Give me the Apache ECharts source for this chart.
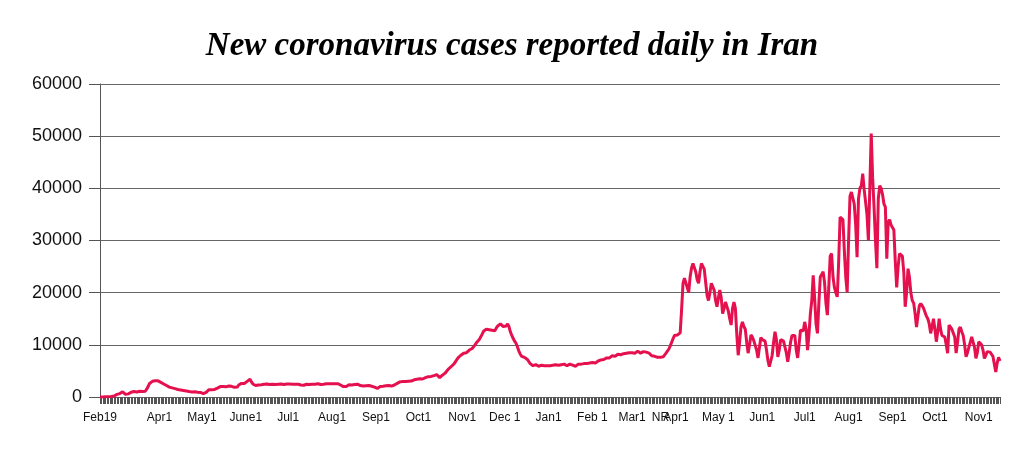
<!DOCTYPE html>
<html>
<head>
<meta charset="utf-8">
<script src="https://cdn.jsdelivr.net/npm/echarts@6/dist/echarts.min.js"></script>
<style>
  html, body { margin: 0; padding: 0; background: #fff; }
  #chart { width: 1024px; height: 452px; }
</style>
</head>
<body>
<div id="chart"></div>
<script>
// daily new cases, one array per month (Feb 19 2020 .. Nov 16 2021)
const feb20 = [0, 0, 20, 30, 40, 50, 60, 100, 120, 150, 200];
const mar20 = [300, 500, 600, 650, 800, 1000, 900, 500, 450, 600, 800, 900, 1000, 1050, 1000, 950, 1050, 1100, 1000, 1050, 1000, 1100, 1500, 2000, 2600, 2900, 3000, 3050, 3100, 3150, 3100];
const apr20 = [2900, 2800, 2650, 2500, 2350, 2200, 2050, 1900, 1800, 1750, 1650, 1600, 1500, 1450, 1400, 1350, 1300, 1250, 1200, 1150, 1100, 1050, 1000, 980, 950, 1000, 950, 900, 920, 880];
const may20 = [800, 650, 700, 900, 1200, 1400, 1450, 1400, 1500, 1450, 1600, 1700, 1900, 2000, 1900, 2000, 2050, 1950, 2000, 2100, 2000, 2050, 1900, 1850, 1800, 1900, 2300, 2500, 2600, 2700, 2600];
const jun20 = [2800, 3000, 3300, 3400, 2900, 2500, 2300, 2200, 2200, 2300, 2400, 2350, 2400, 2450, 2400, 2500, 2450, 2400, 2500, 2450, 2350, 2400, 2500, 2450, 2400, 2500, 2450, 2400, 2450, 2500];
const jul20 = [2450, 2500, 2400, 2450, 2500, 2450, 2400, 2450, 2350, 2300, 2100, 2250, 2400, 2450, 2500, 2400, 2350, 2450, 2500, 2450, 2500, 2550, 2450, 2400, 2350, 2450, 2500, 2550, 2600, 2550, 2500];
const aug20 = [2550, 2600, 2550, 2500, 2550, 2450, 2300, 2200, 2000, 1850, 2000, 2200, 2350, 2400, 2300, 2250, 2400, 2500, 2450, 2300, 2200, 2250, 2100, 2000, 2150, 2250, 2200, 2150, 2050, 2000, 1900];
const sep20 = [1700, 1650, 1800, 2000, 2100, 2050, 2100, 2150, 2100, 2200, 2150, 2100, 2200, 2300, 2450, 2600, 2800, 2900, 2850, 2950, 3000, 2950, 2900, 3000, 3100, 3050, 3200, 3300, 3250, 3400];
const oct20 = [3400, 3500, 3550, 3450, 3600, 3700, 3800, 3900, 3850, 3950, 4000, 4100, 4200, 4300, 4500, 3700, 3900, 4200, 4400, 4600, 4900, 5300, 5600, 5800, 6000, 6300, 6700, 7000, 7500, 7800, 8000];
const nov20 = [8200, 8400, 8600, 8500, 8800, 9000, 9100, 9300, 9600, 10000, 10400, 10700, 11000, 11500, 12000, 12600, 12900, 13000, 13100, 12900, 13000, 12800, 12500, 12700, 13200, 13600, 13900, 14000, 13700, 13500];
const dec20 = [13400, 13600, 14000, 13500, 12500, 11800, 11200, 10700, 10300, 9600, 8800, 8200, 7800, 7700, 7600, 7500, 7200, 6800, 6400, 6100, 6000, 6100, 6200, 6000, 5900, 6000, 6100, 6200, 6000, 5900, 6000];
const jan21 = [6100, 6000, 6200, 6100, 6000, 6200, 6300, 6100, 6000, 6200, 6100, 6300, 6200, 6000, 6100, 6300, 6200, 6100, 6000, 5900, 6100, 6300, 6400, 6300, 6200, 6400, 6500, 6400, 6300, 6500, 6600];
const feb21 = [6600, 6700, 6500, 6800, 6900, 7000, 7100, 6900, 7200, 7400, 7500, 7600, 7500, 7800, 7900, 8000, 7800, 8100, 8200, 8300, 8100, 8400, 8300, 8500, 8400, 8300, 8500, 8600];
const mar21 = [8500, 8600, 8400, 8700, 8800, 8600, 8400, 8500, 8700, 8800, 8600, 8300, 8400, 8200, 7900, 8000, 7800, 7700, 7600, 7500, 7600, 7500, 7700, 7900, 8400, 8700, 9200, 9800, 10500, 11200, 11800];
const apr21 = [11900, 11900, 12200, 12300, 16800, 21800, 22800, 22700, 21000, 20000, 23000, 24700, 25600, 25600, 24000, 22500, 21800, 24000, 25600, 25500, 24500, 22000, 19500, 18500, 20000, 21800, 21500, 20500, 18500, 17300];
const may21 = [19000, 20500, 19000, 16000, 17000, 18200, 18200, 16500, 15000, 13800, 17000, 18200, 17000, 12000, 8000, 10500, 13500, 14400, 13500, 13000, 10500, 8400, 10000, 11900, 11500, 10800, 10500, 9000, 7500, 9500, 11400];
const jun21 = [11000, 10800, 10700, 9000, 7000, 5800, 5500, 8000, 10500, 12500, 11000, 7700, 9000, 11000, 11000, 10700, 10600, 8500, 6750, 8500, 10500, 11800, 11900, 11800, 9000, 7500, 10000, 12800, 12800, 12700];
const jul21 = [14400, 13000, 9000, 12000, 16000, 18500, 23300, 19000, 14000, 12200, 18000, 23000, 23500, 24000, 22000, 18000, 15700, 21000, 27000, 27500, 23000, 21000, 20000, 19200, 26000, 34500, 34800, 34000, 28000, 23000, 20100];
const aug21 = [30000, 38500, 39300, 39000, 37000, 33000, 26800, 38000, 40000, 40500, 42800, 39800, 39500, 35000, 30000, 40000, 50500, 42000, 36400, 30000, 24700, 38000, 40500, 40000, 38800, 37000, 36400, 26500, 33500, 34000, 33000];
const sep21 = [33000, 32000, 26000, 21000, 25000, 27500, 27500, 27000, 24000, 17300, 20000, 24600, 23000, 20000, 18500, 18000, 16000, 13400, 15500, 17500, 17900, 17500, 17000, 17200, 15500, 15000, 14000, 12200, 13500, 15000];
const oct21 = [13000, 10600, 12500, 15000, 13000, 11800, 12000, 11500, 10000, 8400, 13800, 13500, 13000, 12900, 11500, 8400, 10500, 13000, 13400, 12500, 11800, 10000, 7700, 8500, 9500, 10500, 11500, 11200, 9500, 7400, 8500];
const nov21 = [10600, 10600, 10000, 9000, 7400, 8000, 8700, 8700, 8600, 8300, 7800, 7700, 4800, 6500, 7600, 6900];

const cases = [].concat(feb20, mar20, apr20, may20, jun20, jul20, aug20, sep20, oct20, nov20, dec20,
  jan21, feb21, mar21, apr21, may21, jun21, jul21, aug21, sep21, oct21, nov21);

// x axis labels and the day index each one sits on
const tickLabels = ['Feb19', 'Apr1', 'May1', 'June1', 'Jul1', 'Aug1', 'Sep1', 'Oct1', 'Nov1', 'Dec 1', 'Jan1',
  'Feb 1', 'Mar1', 'NR', 'Apr1', 'May 1', 'Jun1', 'Jul1', 'Aug1', 'Sep1', 'Oct1', 'Nov1'];
const tickDays = [0, 42, 72, 103, 133, 164, 195, 225, 256, 286, 317, 348, 376, 396, 407, 437, 468, 498, 529, 560, 590, 621];

const days = [];
const start = Date.UTC(2020, 1, 19);
for (let i = 0; i < cases.length; i++) {
  const d = new Date(start + i * 86400000);
  days.push(d.toISOString().slice(0, 10));
}

const myChart = echarts.init(document.getElementById('chart'));

myChart.setOption({
  animation: false,
  backgroundColor: '#fff',
  title: {
    left: 'center',
    top: 25,
    text: 'New coronavirus cases reported daily in Iran',
    textStyle: {
      fontFamily: '"Liberation Serif", "Times New Roman", serif',
      fontStyle: 'italic',
      fontWeight: 'bold',
      fontSize: 33,
      color: '#000'
    }
  },
  grid: { left: 100, right: 24, top: 84, bottom: 55 },
  xAxis: {
    type: 'category',
    data: days,
    boundaryGap: false,
    axisLine: { show: true, lineStyle: { color: '#666', width: 1 } },
    axisTick: { show: true, interval: 0, length: 7, lineStyle: { color: '#555', width: 1 } },
    axisLabel: {
      interval: (idx) => tickDays.includes(idx),
      formatter: (val, idx) => tickLabels[tickDays.indexOf(idx)],
      hideOverlap: false,
      margin: 15,
      fontFamily: '"Liberation Sans", Arial, sans-serif',
      fontSize: 12,
      color: '#111'
    },
    splitLine: { show: false }
  },
  yAxis: {
    type: 'value',
    min: 0,
    max: 60000,
    interval: 10000,
    axisLine: { show: true, lineStyle: { color: '#555', width: 1 } },
    axisTick: { show: true, length: 11, lineStyle: { color: '#555', width: 1 } },
    axisLabel: {
      margin: 18,
      formatter: (v) => String(v),
      fontFamily: '"Liberation Sans", Arial, sans-serif',
      fontSize: 18,
      color: '#111'
    },
    splitLine: { show: true, lineStyle: { color: '#666', width: 1 } }
  },
  series: [{
    type: 'line',
    data: cases,
    showSymbol: false,
    smooth: false,
    lineStyle: { color: '#e5104e', width: 3 },
    itemStyle: { color: '#e5104e' }
  }]
});
</script>
</body>
</html>
